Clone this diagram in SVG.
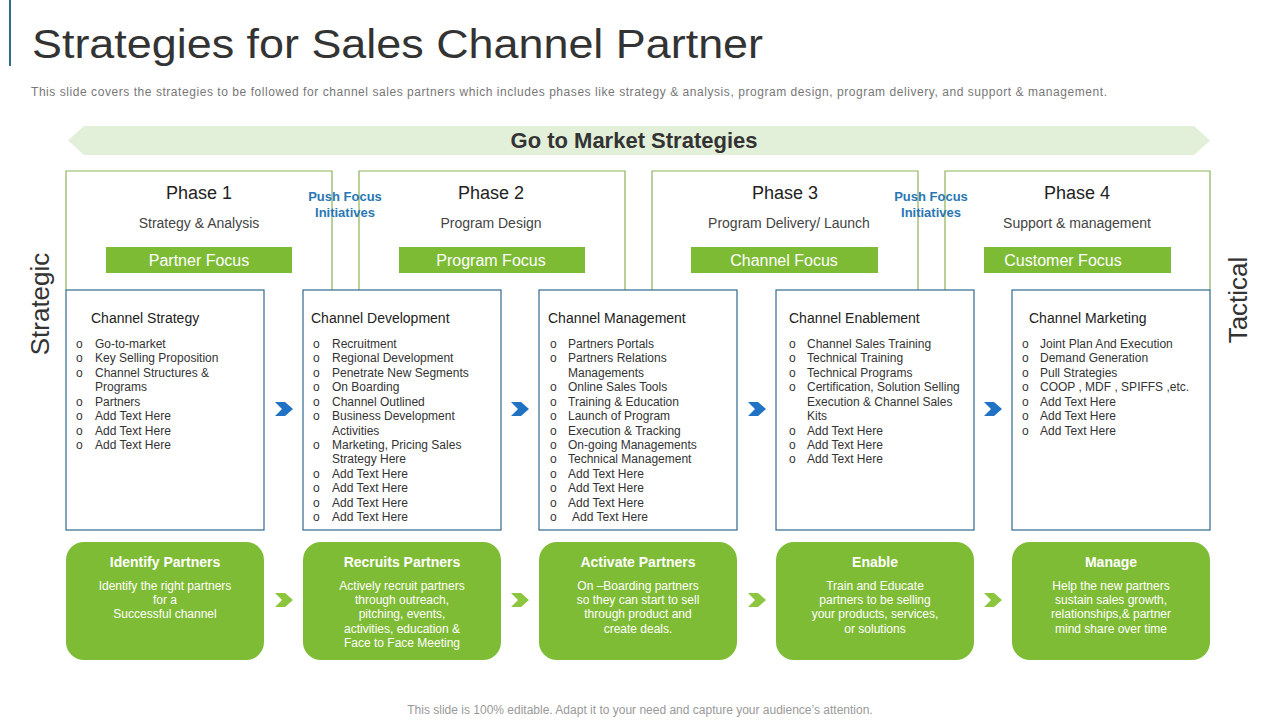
<svg xmlns="http://www.w3.org/2000/svg" width="1280" height="720" viewBox="0 0 1280 720">
<defs>
<style>
text{font-family:"Liberation Sans",Arial,sans-serif}
.ph{font-size:18px;fill:#222;text-anchor:middle}
.sub{font-size:14px;fill:#444;text-anchor:middle}
.fb{fill:#7dbb35}
.ft{font-size:16px;fill:#fff;text-anchor:middle}
.pf{font-size:13px;font-weight:bold;fill:#2a77b4;text-anchor:middle}
.ol{fill:none;stroke:#8db25a;stroke-width:1.2}
.bx{fill:#fff;stroke:#2f6a8e;stroke-width:1.2}
.hd{font-size:14px;fill:#222}
.li{font-size:12px;fill:#333}
.gb{fill:#7fbc35}
.gh{font-size:14px;font-weight:bold;fill:#fff;text-anchor:middle}
.gt{font-size:12px;fill:#fff;text-anchor:middle}
</style>
<path id="chev" d="M-9,-7 L1,-7 L9,0 L1,7 L-9,7 L-2,0 Z"/>
</defs>
<rect width="1280" height="720" fill="#fff"/>
<line x1="10" y1="0" x2="10" y2="66" stroke="#2f6a8e" stroke-width="2"/>
<text x="32" y="58" font-size="40" fill="#333" textLength="731" lengthAdjust="spacingAndGlyphs">Strategies for Sales Channel Partner</text>
<text x="31" y="96" font-size="12" fill="#777" textLength="1076">This slide covers the strategies to be followed for channel sales partners which includes phases like strategy &amp; analysis, program design, program delivery, and support &amp; management.</text>
<path d="M68,140.5 L84,126 L1194,126 L1210,140.5 L1194,155 L84,155 Z" fill="#e2efd9"/>
<text x="634" y="148" font-size="22" font-weight="bold" fill="#333" text-anchor="middle">Go to Market Strategies</text>
<text transform="translate(49,304) rotate(-90)" font-size="26" fill="#333" text-anchor="middle">Strategic</text>
<text transform="translate(1247,300) rotate(-90)" font-size="26" fill="#333" text-anchor="middle">Tactical</text>

<g id="phase1">
<path class="ol" d="M66,290 L66,171 L332,171 L332,290"/>
<text class="ph" x="199" y="199">Phase 1</text><text class="sub" x="199" y="228">Strategy &amp; Analysis</text>
<rect class="fb" x="106" y="247" width="186" height="26"/><text class="ft" x="199" y="266">Partner Focus</text>
</g>
<g id="phase2">
<path class="ol" d="M359,290 L359,171 L625,171 L625,290"/>
<text class="ph" x="491" y="199">Phase 2</text><text class="sub" x="491" y="228">Program Design</text>
<rect class="fb" x="399" y="247" width="186" height="26"/><text class="ft" x="491" y="266">Program Focus</text>
</g>
<g id="phase3">
<path class="ol" d="M652,290 L652,171 L918,171 L918,290"/>
<text class="ph" x="785" y="199">Phase 3</text><text class="sub" x="789" y="228">Program Delivery/ Launch</text>
<rect class="fb" x="691" y="247" width="187" height="26"/><text class="ft" x="784" y="266">Channel Focus</text>
</g>
<g id="phase4">
<path class="ol" d="M945,290 L945,171 L1210,171 L1210,290"/>
<text class="ph" x="1077" y="199">Phase 4</text><text class="sub" x="1077" y="228">Support &amp; management</text>
<rect class="fb" x="984" y="247" width="187" height="26"/><text class="ft" x="1063" y="266">Customer Focus</text>
</g>
<g id="push1"><text class="pf" x="345" y="201">Push Focus</text><text class="pf" x="345" y="217">Initiatives</text></g>
<g id="push2"><text class="pf" x="931" y="201">Push Focus</text><text class="pf" x="931" y="217">Initiatives</text></g>

<g id="box1">
<rect class="bx" x="66" y="290" width="198" height="240"/>
<text class="hd" x="91" y="323">Channel Strategy</text>
<g class="li">
<text x="76" y="348">o</text><text x="95" y="348">Go-to-market</text>
<text x="76" y="362">o</text><text x="95" y="362">Key Selling Proposition</text>
<text x="76" y="377">o</text><text x="95" y="377">Channel Structures &amp;</text>
<text x="95" y="391">Programs</text>
<text x="76" y="406">o</text><text x="95" y="406">Partners</text>
<text x="76" y="420">o</text><text x="95" y="420">Add Text Here</text>
<text x="76" y="435">o</text><text x="95" y="435">Add Text Here</text>
<text x="76" y="449">o</text><text x="95" y="449">Add Text Here</text>
</g></g>
<g id="box2">
<rect class="bx" x="303" y="290" width="198" height="240"/>
<text class="hd" x="311" y="323">Channel Development</text>
<g class="li">
<text x="313" y="348">o</text><text x="332" y="348">Recruitment</text>
<text x="313" y="362">o</text><text x="332" y="362">Regional Development</text>
<text x="313" y="377">o</text><text x="332" y="377">Penetrate New Segments</text>
<text x="313" y="391">o</text><text x="332" y="391">On Boarding</text>
<text x="313" y="406">o</text><text x="332" y="406">Channel Outlined</text>
<text x="313" y="420">o</text><text x="332" y="420">Business Development</text>
<text x="332" y="435">Activities</text>
<text x="313" y="449">o</text><text x="332" y="449">Marketing, Pricing Sales</text>
<text x="332" y="463">Strategy Here</text>
<text x="313" y="478">o</text><text x="332" y="478">Add Text Here</text>
<text x="313" y="492">o</text><text x="332" y="492">Add Text Here</text>
<text x="313" y="507">o</text><text x="332" y="507">Add Text Here</text>
<text x="313" y="521">o</text><text x="332" y="521">Add Text Here</text>
</g></g>
<g id="box3">
<rect class="bx" x="539" y="290" width="198" height="240"/>
<text class="hd" x="548" y="323">Channel Management</text>
<g class="li">
<text x="550" y="348">o</text><text x="568" y="348">Partners Portals</text>
<text x="550" y="362">o</text><text x="568" y="362">Partners Relations</text>
<text x="568" y="377">Managements</text>
<text x="550" y="391">o</text><text x="568" y="391">Online Sales Tools</text>
<text x="550" y="406">o</text><text x="568" y="406">Training &amp; Education</text>
<text x="550" y="420">o</text><text x="568" y="420">Launch of Program</text>
<text x="550" y="435">o</text><text x="568" y="435">Execution &amp; Tracking</text>
<text x="550" y="449">o</text><text x="568" y="449">On-going Managements</text>
<text x="550" y="463">o</text><text x="568" y="463">Technical Management</text>
<text x="550" y="478">o</text><text x="568" y="478">Add Text Here</text>
<text x="550" y="492">o</text><text x="568" y="492">Add Text Here</text>
<text x="550" y="507">o</text><text x="568" y="507">Add Text Here</text>
<text x="550" y="521">o</text><text x="572" y="521">Add Text Here</text>
</g></g>
<g id="box4">
<rect class="bx" x="776" y="290" width="198" height="240"/>
<text class="hd" x="789" y="323">Channel Enablement</text>
<g class="li">
<text x="789" y="348">o</text><text x="807" y="348">Channel Sales Training</text>
<text x="789" y="362">o</text><text x="807" y="362">Technical Training</text>
<text x="789" y="377">o</text><text x="807" y="377">Technical Programs</text>
<text x="789" y="391">o</text><text x="807" y="391">Certification, Solution Selling</text>
<text x="807" y="406">Execution &amp; Channel Sales</text>
<text x="807" y="420">Kits</text>
<text x="789" y="435">o</text><text x="807" y="435">Add Text Here</text>
<text x="789" y="449">o</text><text x="807" y="449">Add Text Here</text>
<text x="789" y="463">o</text><text x="807" y="463">Add Text Here</text>
</g></g>
<g id="box5">
<rect class="bx" x="1012" y="290" width="198" height="240"/>
<text class="hd" x="1029" y="323">Channel Marketing</text>
<g class="li">
<text x="1022" y="348">o</text><text x="1040" y="348">Joint Plan And Execution</text>
<text x="1022" y="362">o</text><text x="1040" y="362">Demand Generation</text>
<text x="1022" y="377">o</text><text x="1040" y="377">Pull Strategies</text>
<text x="1022" y="391">o</text><text x="1040" y="391">COOP , MDF , SPIFFS ,etc.</text>
<text x="1022" y="406">o</text><text x="1040" y="406">Add Text Here</text>
<text x="1022" y="420">o</text><text x="1040" y="420">Add Text Here</text>
<text x="1022" y="435">o</text><text x="1040" y="435">Add Text Here</text>
</g></g>

<g id="g1"><rect class="gb" x="66" y="542" width="198" height="118" rx="18"/>
<text class="gh" x="165" y="567">Identify Partners</text>
<text class="gt" x="165" y="590">Identify the right partners</text><text class="gt" x="165" y="604">for a</text><text class="gt" x="165" y="618">Successful channel</text></g>
<g id="g2"><rect class="gb" x="303" y="542" width="198" height="118" rx="18"/>
<text class="gh" x="402" y="567">Recruits Partners</text>
<text class="gt" x="402" y="590">Actively  recruit partners</text><text class="gt" x="402" y="604">through outreach,</text><text class="gt" x="402" y="618">pitching, events,</text><text class="gt" x="402" y="633">activities, education &amp;</text><text class="gt" x="402" y="647">Face to Face Meeting</text></g>
<g id="g3"><rect class="gb" x="539" y="542" width="198" height="118" rx="18"/>
<text class="gh" x="638" y="567">Activate Partners</text>
<text class="gt" x="638" y="590">On –Boarding partners</text><text class="gt" x="638" y="604">so they can start to sell</text><text class="gt" x="638" y="618">through product and</text><text class="gt" x="638" y="633">create deals.</text></g>
<g id="g4"><rect class="gb" x="776" y="542" width="198" height="118" rx="18"/>
<text class="gh" x="875" y="567">Enable</text>
<text class="gt" x="875" y="590">Train and Educate</text><text class="gt" x="875" y="604">partners to be selling</text><text class="gt" x="875" y="618">your products, services,</text><text class="gt" x="875" y="633">or solutions</text></g>
<g id="g5"><rect class="gb" x="1012" y="542" width="198" height="118" rx="18"/>
<text class="gh" x="1111" y="567">Manage</text>
<text class="gt" x="1111" y="590">Help the new partners</text><text class="gt" x="1111" y="604">sustain sales growth,</text><text class="gt" x="1111" y="618">relationships,&amp; partner</text><text class="gt" x="1111" y="633">mind share over time</text></g>

<g id="connectors">
<g fill="#1f72c4">
<use href="#chev" x="284" y="409"/><use href="#chev" x="520" y="409"/><use href="#chev" x="757" y="409"/><use href="#chev" x="993" y="409"/>
</g>
<g fill="#8cc63f">
<use href="#chev" x="284" y="600"/><use href="#chev" x="520" y="600"/><use href="#chev" x="757" y="600"/><use href="#chev" x="993" y="600"/>
</g>
</g>
<text x="640" y="714" font-size="12" fill="#999" text-anchor="middle">This slide is 100% editable. Adapt it to your need and capture your audience’s attention.</text>
</svg>
